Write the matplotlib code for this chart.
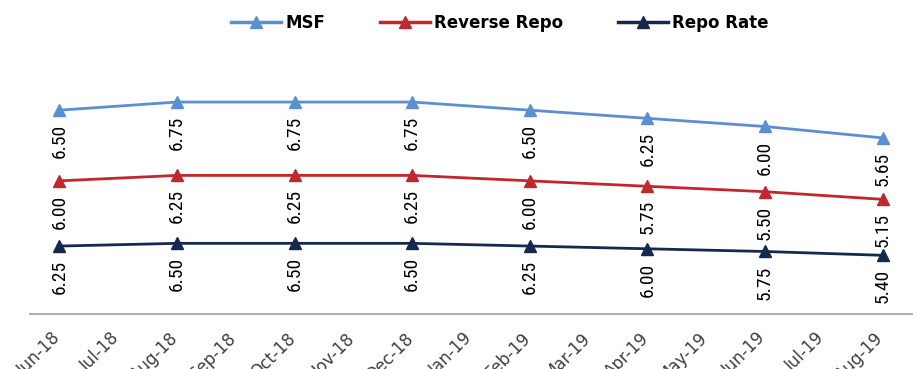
import matplotlib
matplotlib.use("Agg")
import matplotlib.pyplot as plt
from matplotlib.lines import Line2D
from matplotlib.transforms import ScaledTranslation
from matplotlib import font_manager

# Monthly category axis and the observation months
month_labels = ["Jun-18", "Jul-18", "Aug-18", "Sep-18", "Oct-18", "Nov-18", "Dec-18",
                "Jan-19", "Feb-19", "Mar-19", "Apr-19", "May-19", "Jun-19", "Jul-19", "Aug-19"]
obs_months = ["Jun-18", "Aug-18", "Oct-18", "Dec-18", "Feb-19", "Apr-19", "Jun-19", "Aug-19"]

# Policy rates (%)
repo_rate = [6.25, 6.50, 6.50, 6.50, 6.25, 6.00, 5.75, 5.40]
reverse_repo = [6.00, 6.25, 6.25, 6.25, 6.00, 5.75, 5.50, 5.15]
msf = [6.50, 6.75, 6.75, 6.75, 6.50, 6.25, 6.00, 5.65]

colors = {"MSF": "#5A8FD4", "Reverse Repo": "#C1272D", "Repo Rate": "#132A4E"}

# Pick a narrow face for the point labels if one is available
installed = {f.name for f in font_manager.fontManager.ttflist}
narrow = [n for n in ["Liberation Sans Narrow", "Roboto Condensed", "Open Sans Condensed",
                      "DejaVu Sans Condensed"] if n in installed]
if narrow:
    label_font = dict(family=[narrow[0], "DejaVu Sans"], size=14)
else:
    label_font = dict(family="DejaVu Sans", stretch="condensed", size=12)

W, H = 917, 369
fig = plt.figure(figsize=(W / 100, H / 100), dpi=100)
ax = fig.add_axes([30 / W, 55 / H, 882 / W, 254 / H])

x = [month_labels.index(m) for m in obs_months]

# Stacked line chart: each series sits on top of the one below it
stack_repo = repo_rate
stack_rev = [a + b for a, b in zip(stack_repo, reverse_repo)]
stack_msf = [a + b for a, b in zip(stack_rev, msf)]

series = [
    ("Repo Rate", stack_repo, repo_rate),
    ("Reverse Repo", stack_rev, reverse_repo),
    ("MSF", stack_msf, msf),
]

for name, ys, vals in series:
    ax.plot(x, ys, color=colors[name], lw=2.0, marker="^", ms=9,
            markeredgecolor=colors[name], solid_capstyle="round", zorder=3)
    for xi, yi, v in zip(x, ys, vals):
        ax.annotate(f"{v:.2f}", (xi, yi), xytext=(0, -10), textcoords="offset points",
                    rotation=90, ha="center", va="top", color="black", **label_font)

ax.set_xlim(-0.5, len(month_labels) - 0.5)
ax.set_ylim(0, 254 / 10.87)

ax.set_xticks(range(len(month_labels)))
ax.set_xticklabels(month_labels, rotation=45, ha="right", va="top",
                   rotation_mode="anchor", fontsize=12, color="#404040")
ax.tick_params(axis="x", length=0, pad=11)
offset = ScaledTranslation(-8 / 100, 0, fig.dpi_scale_trans)
for lbl in ax.get_xticklabels():
    lbl.set_transform(lbl.get_transform() + offset)

ax.set_yticks([])
for side in ["left", "right", "top"]:
    ax.spines[side].set_visible(False)
ax.spines["bottom"].set_color("#A6A6A6")
ax.spines["bottom"].set_linewidth(1.3)

handles = [Line2D([], [], color=colors[n], lw=2.5, marker="^", ms=9) for n in
           ["MSF", "Reverse Repo", "Repo Rate"]]
fig.legend(handles, ["MSF", "Reverse Repo", "Repo Rate"], loc="center",
           bbox_to_anchor=(500 / W, 1 - 23 / H), ncol=3, frameon=False,
           prop=dict(family="DejaVu Sans", weight="bold", size=12),
           handlelength=3.0, handletextpad=0.25, columnspacing=3.3)

fig.savefig("out.png", dpi=100)
